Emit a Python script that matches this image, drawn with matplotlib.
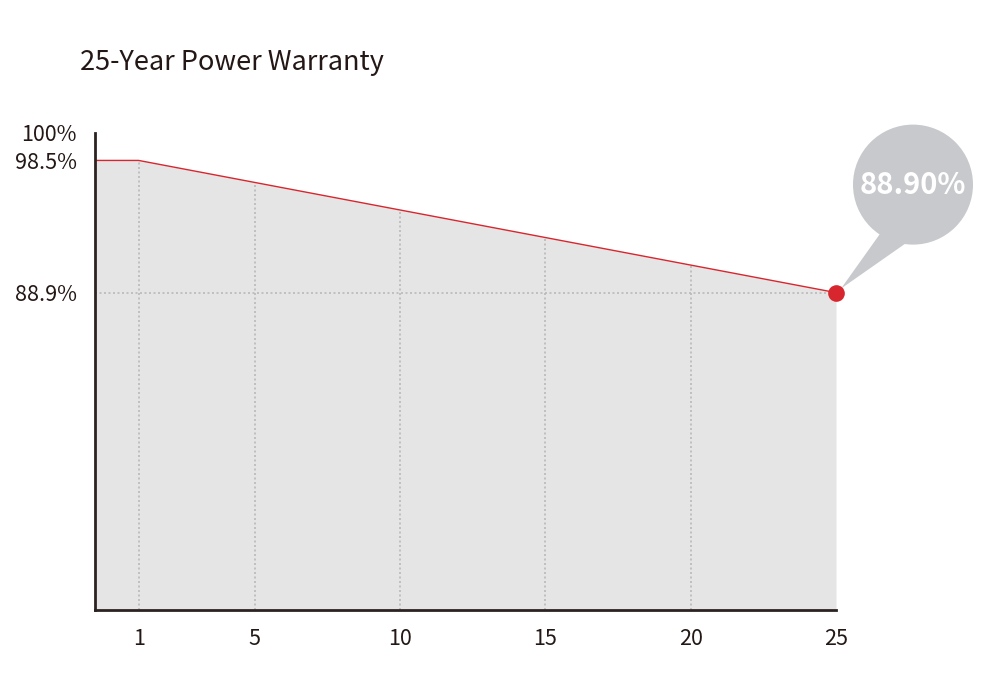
import numpy as np
import matplotlib
matplotlib.use("Agg")
import matplotlib.pyplot as plt
from matplotlib.patches import Circle, Polygon
from matplotlib.transforms import ScaledTranslation

plt.rcParams['font.family'] = ['Noto Sans CJK SC', 'DejaVu Sans']

title = "25-Year Power Warranty"
years = [1, 25]
power = [98.5, 88.9]
xticks = [1, 5, 10, 15, 20, 25]
yticks = [100, 98.5, 88.9]
ytick_labels = ["100%", "98.5%", "88.9%"]
callout = "88.90%"

red = "#d7262e"
fill_grey = "#e5e5e5"
dot_grey = "#b9b9b9"
axis_col = "#2b2321"
text_col = "#231815"

fig = plt.figure(figsize=(9.95, 6.85), dpi=100)
ax = fig.add_axes([0.0955, 0.1095, 0.7447, 0.6965])
x0, x1 = -0.5, 25
ax.set_xlim(x0, x1)
ax.set_ylim(65.85, 100.5)
ymin = ax.get_ylim()[0]

# line starts flat at the axis edge, then runs from year 1 to year 25
lx = [x0] + years
ly = [power[0]] + power
ax.fill_between(lx, ly, ymin, color=fill_grey, lw=0, zorder=1)

# dotted guides inside the filled area
for t in xticks[:-1]:
    top = np.interp(t, lx, ly)
    ax.plot([t, t], [ymin, top], color=dot_grey, lw=1.2, ls=(0, (1.2, 1.5)), zorder=2)
ax.plot([x0, years[-1]], [power[-1], power[-1]], color=dot_grey, lw=1.2,
        ls=(0, (1.2, 1.5)), zorder=2)

ax.plot(lx, ly, color=red, lw=1.0, zorder=3)
ax.plot(years[-1], power[-1], 'o', color=red, ms=12, mec='none', zorder=6, clip_on=False)

# speech balloon anchored to the last point
off = fig.dpi_scale_trans + ScaledTranslation(years[-1], power[-1], ax.transData)
bub = "#c7c9cc"
ax.add_patch(Circle((0.77, 1.08), 0.6, transform=off, color=bub, lw=0, clip_on=False, zorder=4))
ax.add_patch(Polygon([(0.05, 0.04), (0.47, 0.63), (0.75, 0.53)], closed=True,
                     transform=off, color=bub, lw=0, clip_on=False, zorder=4))
ax.text(0.77, 1.08, callout, transform=off, ha='center', va='center', color='white',
        fontsize=21, fontweight='bold', zorder=5)

ax.set_xticks(xticks)
ax.set_xticklabels([str(t) for t in xticks])
ax.set_yticks(yticks)
ax.set_yticklabels(ytick_labels)
ax.tick_params(length=0, labelsize=15.5, colors=text_col)
ax.tick_params(axis='x', pad=13)
ax.tick_params(axis='y', pad=13)
for lab in ax.get_xticklabels() + ax.get_yticklabels():
    lab.set_fontweight('light')

# nudge the 100% label up so it clears 98.5%
top_lab = ax.get_yticklabels()[0]
top_lab.set_transform(top_lab.get_transform() + ScaledTranslation(0, 0.07, fig.dpi_scale_trans))

for s in ['top', 'right']:
    ax.spines[s].set_visible(False)
for s in ['left', 'bottom']:
    ax.spines[s].set_color(axis_col)
    ax.spines[s].set_linewidth(2)
    ax.spines[s].set_zorder(5)

fig.text(0.0804, 1 - 70 / 685, title, fontsize=19.5, fontweight='light',
         color=text_col, ha='left', va='baseline')

fig.savefig("out.png", dpi=100)
